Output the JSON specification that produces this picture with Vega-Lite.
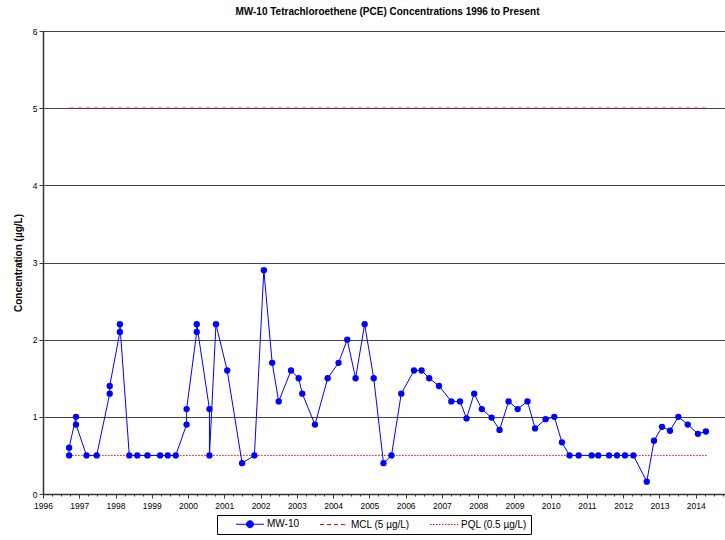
{
  "$schema": "https://vega.github.io/schema/vega-lite/v6.json",
  "autosize": "none",
  "width": 689,
  "height": 463,
  "padding": {"left": 43, "top": 31, "right": 0, "bottom": 46},
  "background": "white",
  "title": {
    "text": "MW-10 Tetrachloroethene (PCE) Concentrations 1996 to Present",
    "font": "Liberation Sans",
    "fontSize": 10,
    "fontWeight": "bold",
    "color": "#000",
    "anchor": "middle",
    "baseline": "bottom",
    "offset": 0
  },
  "config": {
    "view": {"stroke": null},
    "axis": {"labelFont": "Liberation Sans", "titleFont": "Liberation Sans", "labelColor": "#000", "titleColor": "#000"}
  },
  "resolve": {"axis": {"x": "independent"}},
  "datasets": {
    "mw10": [
      {"year": 1996.72, "value": 0.5},
      {"year": 1996.72, "value": 0.6},
      {"year": 1996.91, "value": 1.0},
      {"year": 1996.91, "value": 0.9},
      {"year": 1997.2, "value": 0.5},
      {"year": 1997.48, "value": 0.5},
      {"year": 1997.84, "value": 1.3},
      {"year": 1997.84, "value": 1.4},
      {"year": 1998.12, "value": 2.1},
      {"year": 1998.12, "value": 2.2},
      {"year": 1998.38, "value": 0.5},
      {"year": 1998.6, "value": 0.5},
      {"year": 1998.88, "value": 0.5},
      {"year": 1999.23, "value": 0.5},
      {"year": 1999.44, "value": 0.5},
      {"year": 1999.66, "value": 0.5},
      {"year": 1999.96, "value": 0.9},
      {"year": 1999.96, "value": 1.1},
      {"year": 2000.24, "value": 2.1},
      {"year": 2000.24, "value": 2.2},
      {"year": 2000.59, "value": 1.1},
      {"year": 2000.59, "value": 0.5},
      {"year": 2000.77, "value": 2.2},
      {"year": 2001.08, "value": 1.6},
      {"year": 2001.49, "value": 0.4},
      {"year": 2001.83, "value": 0.5},
      {"year": 2002.09, "value": 2.9},
      {"year": 2002.32, "value": 1.7},
      {"year": 2002.5, "value": 1.2},
      {"year": 2002.84, "value": 1.6},
      {"year": 2003.05, "value": 1.5},
      {"year": 2003.15, "value": 1.3},
      {"year": 2003.5, "value": 0.9},
      {"year": 2003.85, "value": 1.5},
      {"year": 2004.15, "value": 1.7},
      {"year": 2004.39, "value": 2.0},
      {"year": 2004.62, "value": 1.5},
      {"year": 2004.87, "value": 2.2},
      {"year": 2005.12, "value": 1.5},
      {"year": 2005.39, "value": 0.4},
      {"year": 2005.61, "value": 0.5},
      {"year": 2005.88, "value": 1.3},
      {"year": 2006.23, "value": 1.6},
      {"year": 2006.44, "value": 1.6},
      {"year": 2006.65, "value": 1.5},
      {"year": 2006.92, "value": 1.4},
      {"year": 2007.26, "value": 1.2},
      {"year": 2007.5, "value": 1.2},
      {"year": 2007.68, "value": 0.98},
      {"year": 2007.89, "value": 1.3},
      {"year": 2008.1, "value": 1.1},
      {"year": 2008.37, "value": 0.99},
      {"year": 2008.59, "value": 0.83},
      {"year": 2008.84, "value": 1.2},
      {"year": 2009.09, "value": 1.1},
      {"year": 2009.36, "value": 1.2},
      {"year": 2009.57, "value": 0.85},
      {"year": 2009.86, "value": 0.97},
      {"year": 2010.1, "value": 1.0},
      {"year": 2010.31, "value": 0.67},
      {"year": 2010.52, "value": 0.5},
      {"year": 2010.77, "value": 0.5},
      {"year": 2011.13, "value": 0.5},
      {"year": 2011.31, "value": 0.5},
      {"year": 2011.61, "value": 0.5},
      {"year": 2011.83, "value": 0.5},
      {"year": 2012.05, "value": 0.5},
      {"year": 2012.28, "value": 0.5},
      {"year": 2012.65, "value": 0.16},
      {"year": 2012.85, "value": 0.69},
      {"year": 2013.07, "value": 0.87},
      {"year": 2013.29, "value": 0.82},
      {"year": 2013.52, "value": 1.0},
      {"year": 2013.78, "value": 0.9},
      {"year": 2014.06, "value": 0.78},
      {"year": 2014.28, "value": 0.81}
    ],
    "refs": [
      {"series": "MCL (5 µg/L)", "year": 1996.72, "year_end": 2014.3, "value": 5},
      {"series": "PQL (0.5 µg/L)", "year": 1996.72, "year_end": 2014.3, "value": 0.5}
    ]
  },
  "layer": [
    {
      "data": {"name": "refs"},
      "transform": [{"filter": "datum.series === 'PQL (0.5 µg/L)'"}],
      "mark": {"type": "rule", "color": "#FF0000", "strokeWidth": 1, "strokeDash": [1.5, 1.5]},
      "encoding": {
        "x": {
          "field": "year", "type": "quantitative",
          "scale": {"domain": [1996, 2015], "nice": false, "zero": false},
          "axis": {
            "orient": "bottom",
            "title": null,
            "grid": false,
            "values": [1996,1997,1998,1999,2000,2001,2002,2003,2004,2005,2006,2007,2008,2009,2010,2011,2012,2013,2014],
            "format": "d",
            "labelOverlap": false,
            "labelFlush": false,
            "labelFontSize": 8.5,
            "labelPadding": 3,
            "domainColor": "#333",
            "domainWidth": 1.5,
            "tickColor": "#333",
            "tickSize": 4
          }
        },
        "x2": {"field": "year_end"},
        "y": {
          "field": "value", "type": "quantitative",
          "scale": {"domain": [0, 6], "nice": false},
          "axis": {
            "title": "Concentration (µg/L)",
            "titleFontSize": 10,
            "titleFontWeight": "bold",
            "titlePadding": 9,
            "values": [0, 1, 2, 3, 4, 5, 6],
            "format": "d",
            "grid": true,
            "gridColor": "#444",
            "gridWidth": 1,
            "domainColor": "#333",
            "domainWidth": 1.5,
            "tickColor": "#333",
            "tickSize": 4,
            "labelFontSize": 8.5,
            "labelPadding": 2
          }
        }
      }
    },
    {
      "data": {"name": "refs"},
      "transform": [{"filter": "datum.series === 'MCL (5 µg/L)'"}],
      "mark": {"type": "rule", "color": "#FF0000", "strokeWidth": 1, "strokeDash": [5, 3]},
      "encoding": {
        "x": {
          "field": "year", "type": "quantitative",
          "axis": {
            "orient": "bottom",
            "title": null,
            "grid": false,
            "labels": false,
            "domain": false,
            "values": [1996.25,1996.5,1996.75,1997.25,1997.5,1997.75,1998.25,1998.5,1998.75,1999.25,1999.5,1999.75,2000.25,2000.5,2000.75,2001.25,2001.5,2001.75,2002.25,2002.5,2002.75,2003.25,2003.5,2003.75,2004.25,2004.5,2004.75,2005.25,2005.5,2005.75,2006.25,2006.5,2006.75,2007.25,2007.5,2007.75,2008.25,2008.5,2008.75,2009.25,2009.5,2009.75,2010.25,2010.5,2010.75,2011.25,2011.5,2011.75,2012.25,2012.5,2012.75,2013.25,2013.5,2013.75,2014.25,2014.5,2014.75],
            "tickColor": "#333",
            "tickSize": 2
          }
        },
        "x2": {"field": "year_end"},
        "y": {"field": "value", "type": "quantitative"}
      }
    },
    {
      "data": {"name": "mw10"},
      "mark": {"type": "line", "color": "#0000FF", "strokeWidth": 1, "point": {"filled": true, "fill": "#0000FF", "size": 40}},
      "encoding": {
        "x": {"field": "year", "type": "quantitative", "axis": null},
        "y": {"field": "value", "type": "quantitative"}
      }
    },
    {
      "data": {"name": "mw10"},
      "transform": [{"filter": "false"}, {"calculate": "'MW-10'", "as": "series"}],
      "mark": {"type": "point", "filled": true, "opacity": 1, "strokeWidth": 1},
      "encoding": {
        "x": {"field": "year", "type": "quantitative", "axis": null},
        "y": {"field": "value", "type": "quantitative"},
        "fill": {
          "field": "series", "type": "nominal",
          "scale": {"domain": ["MW-10", "MCL (5 µg/L)", "PQL (0.5 µg/L)"], "range": ["#0000FF", "#FF0000", "#FF0000"]},
          "legend": {
            "title": null,
            "orient": "none",
            "legendX": 174,
            "legendY": 484,
            "direction": "horizontal",
            "strokeColor": "#000",
            "padding": 4,
            "columnPadding": 4,
            "symbolSize": 64,
            "symbolStrokeWidth": 1,
            "symbolOpacity": 1,
            "labelOffset": 36,
            "labelFont": "Liberation Sans",
            "labelFontSize": 10,
            "labelColor": "#000"
          }
        },
        "stroke": {
          "field": "series", "type": "nominal",
          "scale": {"domain": ["MW-10", "MCL (5 µg/L)", "PQL (0.5 µg/L)"], "range": ["#0000FF", "#FF0000", "#FF0000"]}
        },
        "shape": {
          "field": "series", "type": "nominal",
          "scale": {"domain": ["MW-10", "MCL (5 µg/L)", "PQL (0.5 µg/L)"], "range": ["M-1,0M2.5,0L9.5,0M6.875,0A0.875,0.875 0 1,1 5.125,0A0.875,0.875 0 1,1 6.875,0Z", "M-1,0M2.5,0L9.5,0", "M-1,0M2.5,0L9.5,0"]}
        },
        "strokeDash": {
          "field": "series", "type": "nominal",
          "scale": {"domain": ["MW-10", "MCL (5 µg/L)", "PQL (0.5 µg/L)"], "range": [[1, 0], [4, 3], [1.5, 1.5]]}
        }
      }
    }
  ]
}
